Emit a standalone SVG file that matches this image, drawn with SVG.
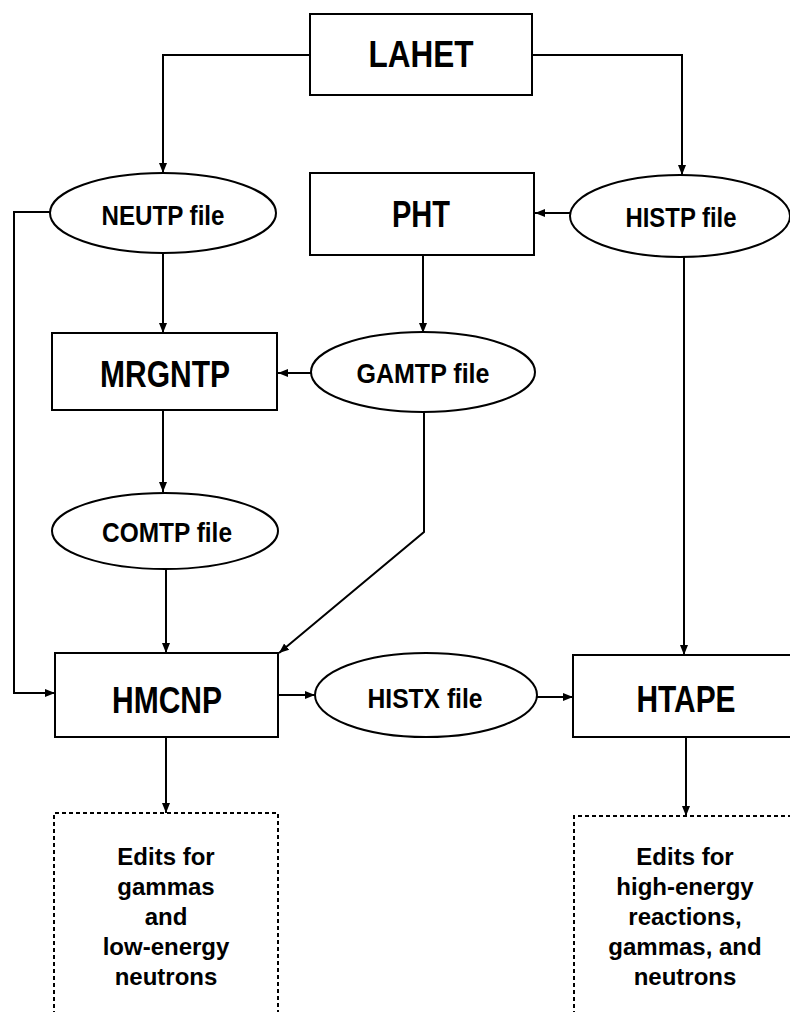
<svg xmlns="http://www.w3.org/2000/svg" width="790" height="1012" viewBox="0 0 790 1012">
<style>
.box{fill:#fff;stroke:#000;stroke-width:2}
.ell{fill:#fff;stroke:#000;stroke-width:2}
.dash{fill:none;stroke:#000;stroke-width:2;stroke-dasharray:4 3}
.ln{fill:none;stroke:#000;stroke-width:2}
.big{font-family:"Liberation Sans",Arial,sans-serif;font-weight:bold;font-size:37px;text-anchor:middle}
.mid{font-family:"Liberation Sans",Arial,sans-serif;font-weight:bold;font-size:27px;text-anchor:middle}
.sm{font-family:"Liberation Sans",Arial,sans-serif;font-weight:bold;font-size:24px;text-anchor:middle}
</style>
<defs>
<marker id="ah" viewBox="0 0 10 10" refX="10" refY="5" markerWidth="5" markerHeight="5" orient="auto" markerUnits="strokeWidth">
<path d="M0,1 L10,5 L0,9 Z" fill="#000"/>
</marker>
</defs>
<rect width="790" height="1012" fill="#fff"/>
<g id="connectors">
<path class="ln" d="M310,55 H163 V173" marker-end="url(#ah)"/>
<path class="ln" d="M532,55 H682 V175" marker-end="url(#ah)"/>
<path class="ln" d="M570,213 H535" marker-end="url(#ah)"/>
<path class="ln" d="M163,253 V333" marker-end="url(#ah)"/>
<path class="ln" d="M423,255 V333" marker-end="url(#ah)"/>
<path class="ln" d="M311,373 H278" marker-end="url(#ah)"/>
<path class="ln" d="M163,410 V492" marker-end="url(#ah)"/>
<path class="ln" d="M50,212 H14 V693 H55" marker-end="url(#ah)"/>
<path class="ln" d="M166,570 V653" marker-end="url(#ah)"/>
<path class="ln" d="M424,412 V532 L279,653" marker-end="url(#ah)"/>
<path class="ln" d="M684,257 V655" marker-end="url(#ah)"/>
<path class="ln" d="M278,695 H315" marker-end="url(#ah)"/>
<path class="ln" d="M537,697 H573" marker-end="url(#ah)"/>
<path class="ln" d="M166,737 V813" marker-end="url(#ah)"/>
<path class="ln" d="M686,737 V816" marker-end="url(#ah)"/>
</g>
<g id="lahet">
<rect class="box" x="310" y="14" width="222" height="81"/>
<text class="big" x="421" y="67" textLength="105" lengthAdjust="spacingAndGlyphs">LAHET</text>
</g>
<g id="neutp">
<ellipse class="ell" cx="163" cy="213" rx="113" ry="40"/>
<text class="mid" x="163" y="225" textLength="123" lengthAdjust="spacingAndGlyphs">NEUTP file</text>
</g>
<g id="pht">
<rect class="box" x="310" y="173" width="224" height="82"/>
<text class="big" x="421" y="227" textLength="58" lengthAdjust="spacingAndGlyphs">PHT</text>
</g>
<g id="histp">
<ellipse class="ell" cx="680" cy="216" rx="110" ry="41"/>
<text class="mid" x="681" y="227" textLength="111" lengthAdjust="spacingAndGlyphs">HISTP file</text>
</g>
<g id="mrgntp">
<rect class="box" x="52" y="333" width="225" height="77"/>
<text class="big" x="165" y="387" textLength="130" lengthAdjust="spacingAndGlyphs">MRGNTP</text>
</g>
<g id="gamtp">
<ellipse class="ell" cx="423" cy="372" rx="112" ry="40"/>
<text class="mid" x="423" y="383" textLength="133" lengthAdjust="spacingAndGlyphs">GAMTP file</text>
</g>
<g id="comtp">
<ellipse class="ell" cx="165" cy="531" rx="113" ry="38"/>
<text class="mid" x="167" y="542" textLength="130" lengthAdjust="spacingAndGlyphs">COMTP file</text>
</g>
<g id="hmcnp">
<rect class="box" x="55" y="653" width="223" height="84"/>
<text class="big" x="167" y="713" textLength="110" lengthAdjust="spacingAndGlyphs">HMCNP</text>
</g>
<g id="histx">
<ellipse class="ell" cx="426" cy="695" rx="111" ry="42"/>
<text class="mid" x="425" y="708" textLength="115" lengthAdjust="spacingAndGlyphs">HISTX file</text>
</g>
<g id="htape">
<rect class="box" x="573" y="655" width="240" height="82"/>
<text class="big" x="686" y="712" textLength="99" lengthAdjust="spacingAndGlyphs">HTAPE</text>
</g>
<g id="edits-low">
<path class="dash" d="M54,1015 V813 H278 V1015"/>
<text class="sm" x="166" y="865">Edits for</text>
<text class="sm" x="166" y="895">gammas</text>
<text class="sm" x="166" y="925">and</text>
<text class="sm" x="166" y="955">low-energy</text>
<text class="sm" x="166" y="985">neutrons</text>
</g>
<g id="edits-high">
<path class="dash" d="M574,1015 V816 H800"/>
<text class="sm" x="685" y="865">Edits for</text>
<text class="sm" x="685" y="895">high-energy</text>
<text class="sm" x="685" y="925">reactions,</text>
<text class="sm" x="685" y="955">gammas, and</text>
<text class="sm" x="685" y="985">neutrons</text>
</g>
</svg>
